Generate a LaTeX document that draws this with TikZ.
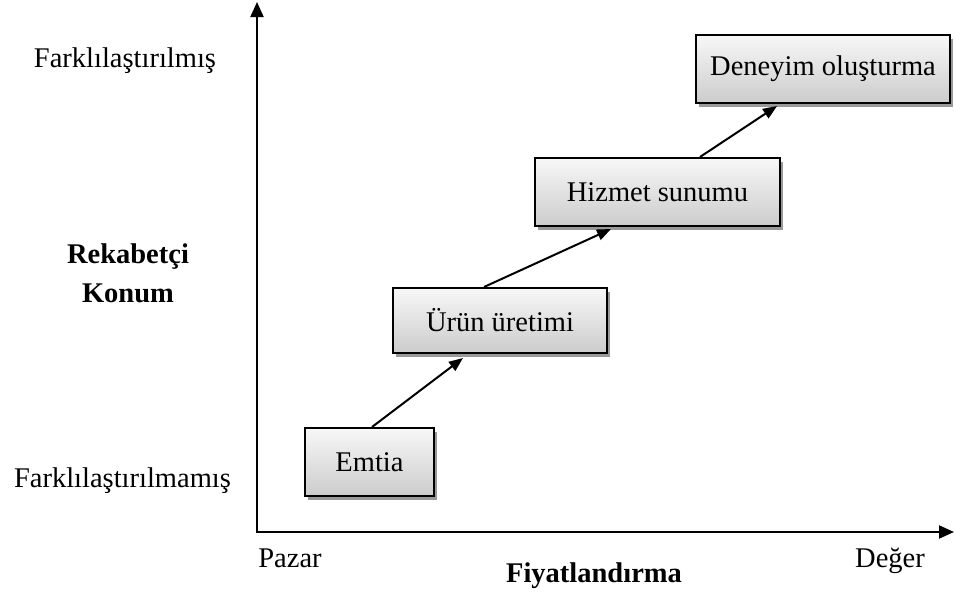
\documentclass[tikz,border=0pt]{standalone}
\usepackage{fontspec}
\setmainfont{Liberation Serif}
\usetikzlibrary{arrows.meta,shadows,calc}

\tikzset{
  lbl/.style={font=\fontsize{28.5}{34}\selectfont, inner sep=0pt, anchor=base},
  boldlbl/.style={lbl, font=\fontsize{28.5}{34}\selectfont\bfseries},
  stage/.style={draw=black, line width=2pt, top color=gray!6, bottom color=gray!40,
    drop shadow={shadow xshift=3pt, shadow yshift=-3.5pt, fill=gray!80, opacity=1},
    font=\fontsize{28.5}{34}\selectfont, inner sep=0pt},
  axis/.style={line width=2pt, {Triangle[length=15pt,width=13pt]}-{Triangle[length=15pt,width=13pt]}},
  link/.style={line width=2pt, -{Triangle[length=14pt,width=11pt]}}
}

\begin{document}
\begin{tikzpicture}[x=1pt,y=-1pt]
\useasboundingbox (0,0) rectangle (955,597);
\fill[white] (0,0) rectangle (955,597);

% axes
\coordinate (ytop) at (257,2);
\coordinate (origin) at (257,532);
\coordinate (xend) at (954,532);
\draw[axis] (ytop) -- (origin) -- (xend);

% stages
\node[stage, minimum width=129pt, minimum height=68pt] (emtia) at (369.5,462) {Emtia};
\node[stage, minimum width=214pt, minimum height=65pt] (urun) at (500,320.5) {Ürün üretimi};
\node[stage, minimum width=245pt, minimum height=68pt] (hizmet) at (657.5,192) {Hizmet sunumu};
\node[stage, minimum width=254pt, minimum height=68pt] (deneyim) at (823,69) {Deneyim oluşturma};

% links between stages
\draw[link] ($(emtia.north)+(2.5,0)$) -- ($(urun.south)+(-37,4)$);
\draw[link] ($(urun.north)+(-16,0)$) -- ($(hizmet.south)+(-46.5,2)$);
\draw[link] ($(hizmet.north)+(42.5,0)$) -- ($(deneyim.south)+(-46,2)$);

% axis labels
\node[lbl] (ymax) at (125,67) {Farklılaştırılmış};
\node[lbl] (ymin) at (122.5,487) {Farklılaştırılmamış};
\node[boldlbl] (ytitleA) at (128,263) {Rekabetçi};
\node[boldlbl] (ytitleB) at (128,302) {Konum};
\node[lbl] (xmin) at (290,567) {Pazar};
\node[lbl] (xmax) at (890,567) {Değer};
\node[boldlbl] (xtitle) at (594,582) {Fiyatlandırma};
\end{tikzpicture}
\end{document}
